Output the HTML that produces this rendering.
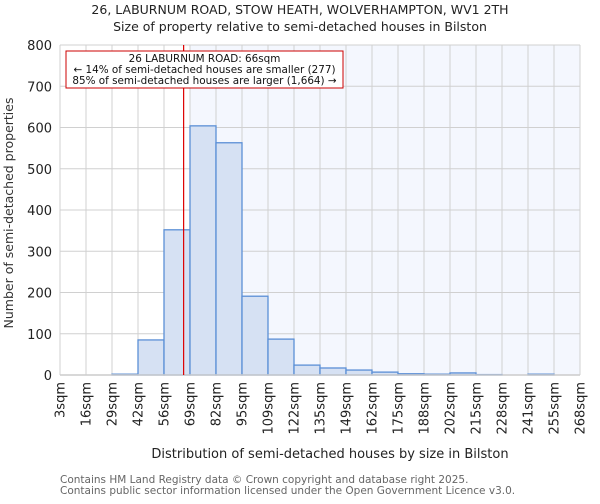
<!DOCTYPE html>
<html><head><meta charset="utf-8"><style>
body{margin:0;background:#fff;font-family:"DejaVu Sans","Liberation Sans",sans-serif}
</style></head><body>
<svg id="c" width="600" height="500" xmlns="http://www.w3.org/2000/svg" font-family="DejaVu Sans, Liberation Sans, sans-serif"></svg>
<script>
const binLabels=["3sqm","16sqm","29sqm","42sqm","56sqm","69sqm","82sqm","95sqm","109sqm","122sqm","135sqm","149sqm","162sqm","175sqm","188sqm","202sqm","215sqm","228sqm","241sqm","255sqm","268sqm"];
const counts=[0,0,2,85,352,604,563,191,87,24,17,12,7,3,2,5,1,0,2,0];
const yTicks=[0,100,200,300,400,500,600,700,800];
const propertySize=66;
const xMin=3,xMax=268;
const L=60,R=580,T=45,B=375,yMax=800;
const svg=document.getElementById('c');
const NS='http://www.w3.org/2000/svg';
function el(t,a,txt){const e=document.createElementNS(NS,t);for(const k in a)e.setAttribute(k,a[k]);if(txt!==undefined)e.textContent=txt;svg.appendChild(e);return e;}
const n=counts.length;
const bx=i=>L+(R-L)*i/n;
const sx=v=>L+(R-L)*(v-xMin)/(xMax-xMin);
const sy=v=>B-(B-T)*v/yMax;
const px=sx(propertySize);
const shadeStart=bx(Math.ceil((propertySize-xMin)/(xMax-xMin)*n));
let e;
e=el('rect',{x:L,y:T,width:R-L,height:B-T,fill:'#fff'});

e=el('rect',{x:shadeStart,y:T,width:R-shadeStart,height:B-T,fill:'#f4f7fe'});

for(let i=0;i<=n;i++){e=el('line',{x1:bx(i),x2:bx(i),y1:T,y2:B,stroke:'#d0d0d0','stroke-width':1});
}
yTicks.forEach(v=>{e=el('line',{x1:L,x2:R,y1:sy(v),y2:sy(v),stroke:'#d0d0d0','stroke-width':1});

e=el('text',{x:L-8,y:sy(v)+5,'text-anchor':'end','font-size':13,fill:'#222'},String(v));
});
counts.forEach((c,i)=>{if(c<=0)return;e=el('rect',{x:bx(i),y:sy(c),width:bx(i+1)-bx(i),height:B-sy(c),fill:'#d6e1f3',stroke:'#5b8fd6','stroke-width':1.3});
});
e=el('line',{x1:L,x2:R,y1:B,y2:B,stroke:'#cccccc','stroke-width':1.5});

binLabels.forEach((t,i)=>{const x=bx(i);e=el('text',{x:0,y:0,transform:`translate(${x+4.5},382) rotate(-90)`,'text-anchor':'end','font-size':13,fill:'#222'},t);
});
e=el('line',{x1:px,x2:px,y1:T,y2:B,stroke:'#dd0000','stroke-width':1.2});

e=el('rect',{x:66,y:51,width:277,height:37,fill:'#fff',stroke:'#cc0000','stroke-width':1});

[["26 LABURNUM ROAD: 66sqm",62],["← 14% of semi-detached houses are smaller (277)",73],["85% of semi-detached houses are larger (1,664) →",84]].forEach(([t,y])=>{
e=el('text',{x:204.5,y:y,'text-anchor':'middle','font-size':10.4,fill:'#111'},t);
});
e=el('text',{x:300,y:14,'text-anchor':'middle','font-size':12.5,fill:'#222'},"26, LABURNUM ROAD, STOW HEATH, WOLVERHAMPTON, WV1 2TH");

e=el('text',{x:300,y:31,'text-anchor':'middle','font-size':12.5,fill:'#222'},"Size of property relative to semi-detached houses in Bilston");

e=el('text',{x:0,y:0,transform:'translate(13,213) rotate(-90)','text-anchor':'middle','font-size':12.5,fill:'#333'},"Number of semi-detached properties");

e=el('text',{x:330,y:458,'text-anchor':'middle','font-size':13,fill:'#222'},"Distribution of semi-detached houses by size in Bilston");

e=el('text',{x:60,y:483,'font-size':10.5,fill:'#666'},"Contains HM Land Registry data © Crown copyright and database right 2025.");

e=el('text',{x:60,y:494,'font-size':10.5,fill:'#666'},"Contains public sector information licensed under the Open Government Licence v3.0.");

</script>
</body></html>
